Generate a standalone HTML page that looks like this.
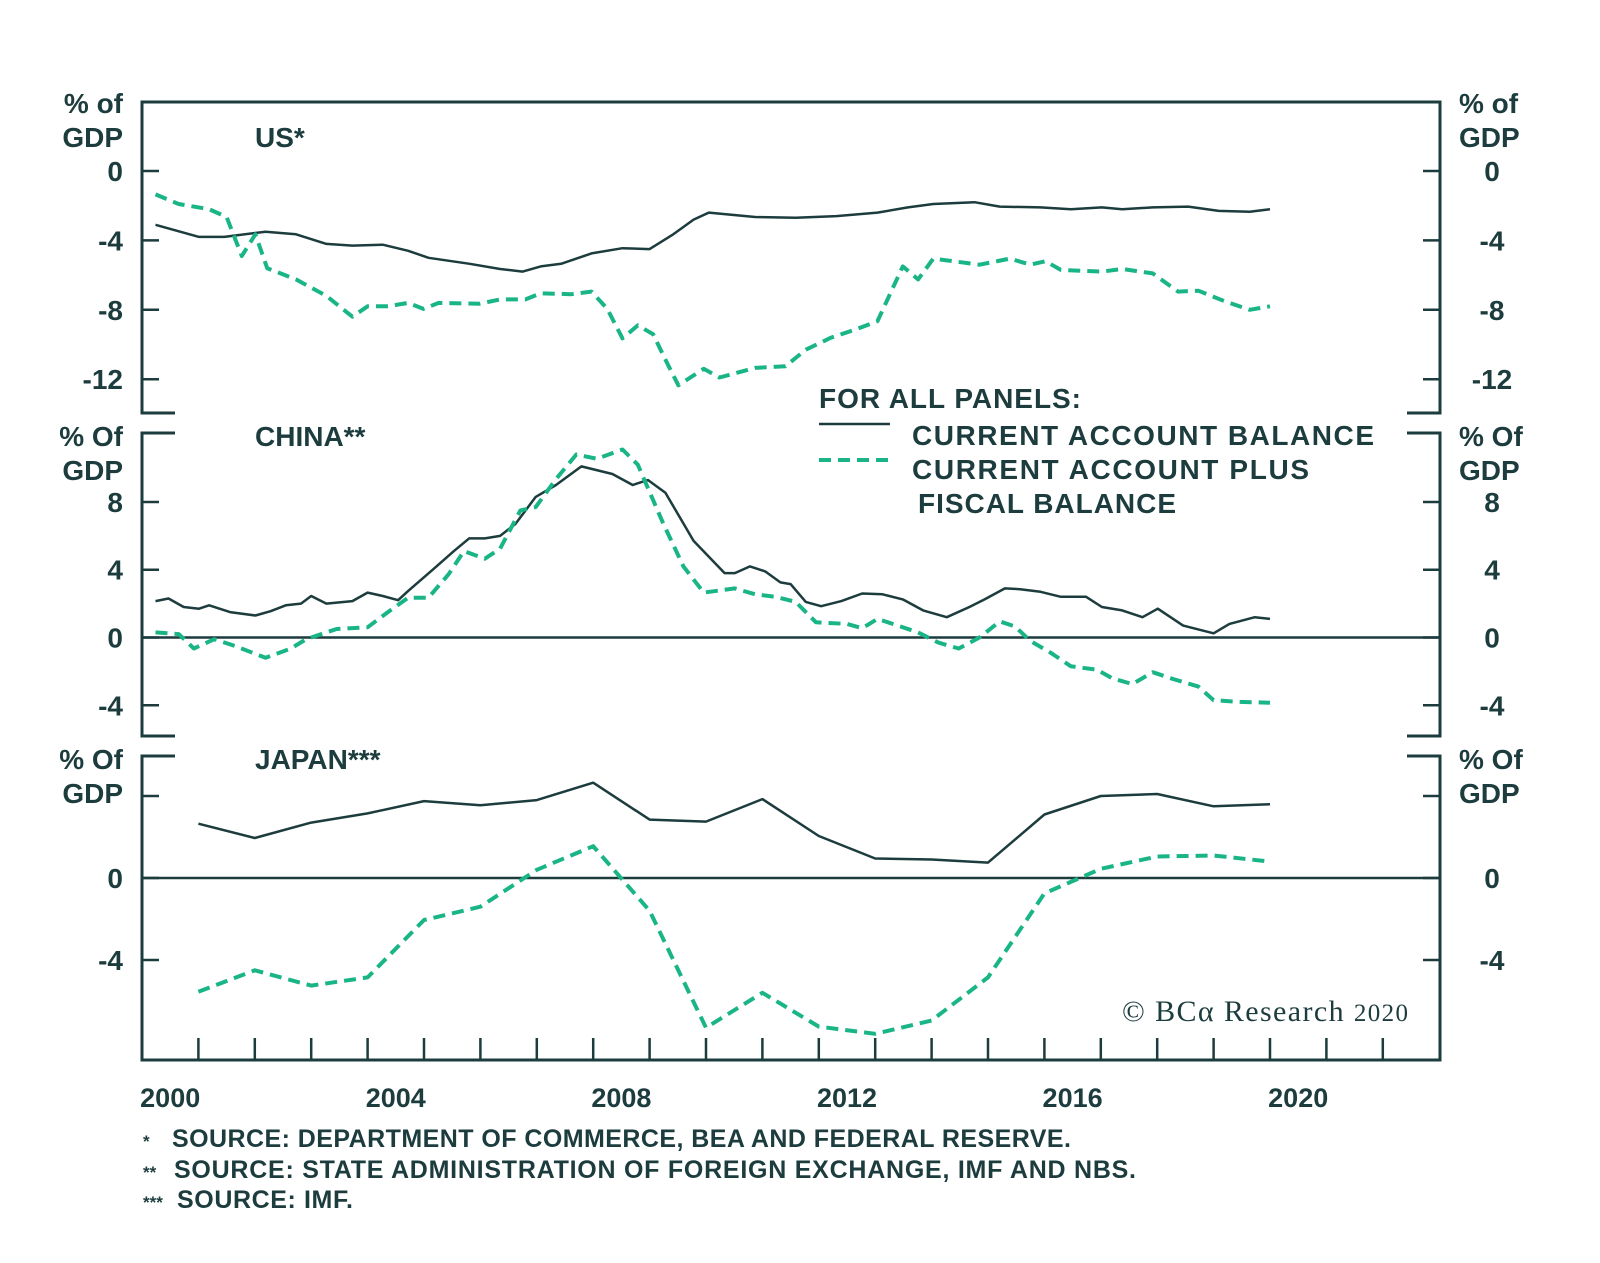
<!DOCTYPE html>
<html><head><meta charset="utf-8"><style>
html,body{margin:0;padding:0;background:#fff}
svg{display:block}
text{font-family:"Liberation Sans",sans-serif;font-weight:bold;fill:#1d3c3e}
</style></head><body>
<svg id="chart" width="1600" height="1263" viewBox="0 0 1600 1263" xmlns="http://www.w3.org/2000/svg">
<g id="frame"></g>
<g id="labels"></g>
<g id="series"></g>
<g>
<text x="819" y="408" font-size="28" textLength="262">FOR ALL PANELS:</text>
<line x1="819" y1="424" x2="890" y2="424" stroke="#1d3c3e" stroke-width="2.5"/>
<text x="912" y="445" font-size="28" textLength="462">CURRENT ACCOUNT BALANCE</text>
<line x1="819" y1="460" x2="890" y2="460" stroke="#1ab586" stroke-width="4" stroke-dasharray="12 7"/>
<text x="912" y="479" font-size="28" textLength="397">CURRENT ACCOUNT PLUS</text>
<text x="918" y="513" font-size="28" textLength="258">FISCAL BALANCE</text>
</g>
<text x="1122" y="1021" font-size="30" textLength="286" style="font-family:'Liberation Serif',serif;font-weight:normal">© BCα Research <tspan font-size="25">2020</tspan></text>
<g>
<text x="143" y="1147" font-size="17">*</text>
<text x="172" y="1147" font-size="25" textLength="899">SOURCE: DEPARTMENT OF COMMERCE, BEA AND FEDERAL RESERVE.</text>
<text x="143" y="1178" font-size="17">**</text>
<text x="174" y="1178" font-size="25" textLength="962">SOURCE: STATE ADMINISTRATION OF FOREIGN EXCHANGE, IMF AND NBS.</text>
<text x="143" y="1208" font-size="17">***</text>
<text x="177" y="1208" font-size="25" textLength="176">SOURCE: IMF.</text>
</g>
</svg>
<script>
// ---- data ----
const usCaYears=[2000.24,2001.01,2001.46,2002.19,2002.73,2003.27,2003.73,2004.27,2004.72,2005.08,2005.81,2006.35,2006.75,2007.07,2007.43,2007.97,2008.52,2009.0,2009.42,2009.78,2010.05,2010.87,2011.59,2012.31,2013.04,2013.58,2014.03,2014.76,2015.21,2015.93,2016.47,2017.02,2017.38,2017.92,2018.55,2019.09,2019.64,2020.0];
const usCa=[-3.1,-3.8,-3.8,-3.5,-3.65,-4.2,-4.3,-4.25,-4.6,-5.0,-5.35,-5.65,-5.8,-5.5,-5.35,-4.75,-4.45,-4.5,-3.65,-2.8,-2.4,-2.65,-2.7,-2.6,-2.4,-2.1,-1.9,-1.8,-2.05,-2.1,-2.2,-2.1,-2.2,-2.1,-2.05,-2.3,-2.35,-2.2];
const usFiscYears=[2000.24,2000.65,2001.19,2001.5,2001.77,2002.01,2002.22,2002.73,2003.27,2003.73,2004.0,2004.36,2004.72,2004.99,2005.26,2005.99,2006.35,2006.8,2007.07,2007.61,2007.97,2008.25,2008.52,2008.79,2009.06,2009.33,2009.51,2009.96,2010.24,2010.87,2011.41,2011.77,2012.22,2012.68,2013.04,2013.49,2013.76,2014.03,2014.85,2015.39,2015.75,2016.02,2016.29,2017.02,2017.38,2017.92,2018.37,2018.73,2019.19,2019.64,2020.0];
const usFisc=[-1.35,-1.9,-2.2,-2.65,-4.9,-3.65,-5.6,-6.25,-7.2,-8.4,-7.8,-7.8,-7.6,-7.95,-7.6,-7.65,-7.4,-7.4,-7.05,-7.1,-6.95,-7.95,-9.65,-8.9,-9.4,-11.2,-12.35,-11.4,-11.9,-11.35,-11.25,-10.3,-9.6,-9.1,-8.65,-5.5,-6.25,-5.05,-5.4,-5.05,-5.4,-5.2,-5.7,-5.8,-5.65,-5.9,-6.95,-6.9,-7.5,-8.0,-7.8];
const cnCaYears=[2000.24,2000.47,2000.74,2001.01,2001.19,2001.56,2002.01,2002.28,2002.55,2002.82,2003.0,2003.27,2003.73,2004.0,2004.27,2004.54,2004.72,2005.17,2005.53,2005.8,2006.08,2006.35,2006.62,2006.98,2007.34,2007.79,2008.34,2008.7,2008.97,2009.28,2009.78,2010.33,2010.51,2010.78,2011.05,2011.32,2011.5,2011.77,2012.04,2012.4,2012.77,2013.13,2013.49,2013.85,2014.27,2014.67,2014.94,2015.3,2015.57,2015.93,2016.29,2016.74,2017.02,2017.38,2017.74,2018.01,2018.46,2019.0,2019.28,2019.73,2020.0];
const cnCa=[2.15,2.3,1.8,1.7,1.9,1.5,1.3,1.55,1.9,2.0,2.45,2.0,2.15,2.65,2.45,2.2,2.75,4.05,5.1,5.85,5.85,6.0,6.7,8.3,9.0,10.1,9.65,9.0,9.3,8.55,5.7,3.8,3.8,4.2,3.9,3.25,3.15,2.1,1.85,2.15,2.6,2.55,2.25,1.6,1.2,1.8,2.25,2.9,2.85,2.7,2.4,2.4,1.8,1.6,1.2,1.7,0.7,0.25,0.8,1.2,1.1];
const cnFiscYears=[2000.24,2000.65,2000.92,2001.28,2001.65,2002.19,2002.64,2002.91,2003.45,2004.0,2004.36,2004.72,2005.08,2005.44,2005.71,2006.08,2006.35,2006.71,2006.98,2007.34,2007.7,2008.07,2008.52,2008.79,2009.24,2009.6,2009.96,2010.51,2010.87,2011.23,2011.59,2011.95,2012.5,2012.77,2013.04,2013.4,2013.76,2014.12,2014.48,2014.85,2015.21,2015.48,2015.75,2016.11,2016.47,2016.93,2017.2,2017.56,2017.92,2018.28,2018.73,2019.0,2019.46,2020.0];
const cnFisc=[0.3,0.2,-0.65,-0.1,-0.5,-1.2,-0.65,-0.1,0.5,0.6,1.5,2.35,2.35,3.75,5.1,4.65,5.25,7.5,7.7,9.35,10.8,10.55,11.1,10.2,6.75,4.2,2.65,2.9,2.55,2.4,2.1,0.9,0.8,0.55,1.1,0.7,0.3,-0.3,-0.65,0,0.95,0.65,-0.2,-0.9,-1.7,-1.9,-2.4,-2.75,-2.05,-2.45,-2.9,-3.7,-3.8,-3.85];
const jpYears=[2001,2002,2003,2004,2005,2006,2007,2008,2009,2010,2011,2012,2013,2014,2015,2016,2017,2018,2019,2020];
const jpCa=[2.65,1.95,2.7,3.15,3.75,3.55,3.8,4.65,2.85,2.75,3.85,2.05,0.95,0.9,0.75,3.1,4.0,4.1,3.5,3.6];
const jpFisc=[-5.55,-4.5,-5.25,-4.85,-2.05,-1.4,0.4,1.55,-1.6,-7.3,-5.6,-7.25,-7.6,-6.95,-4.85,-0.75,0.45,1.05,1.1,0.8];
const yearLabels=["2000","2004","2008","2012","2016","2020"];
const usTicks=[0,-4,-8,-12];
const cnTicks=[8,4,0,-4];
const jpTicks=[4,0,-4];
const jpTickLabels=[null,"0","-4"];

// ---- scales ----
const X0=142,X1=1440,PX=56.4;
const x=t=>X0+(t-2000)*PX;
const yUS=v=>171-v*17.35;
const yCN=v=>637.5-v*16.94;
const yJP=v=>878-v*20.5;
const NS="http://www.w3.org/2000/svg";
const DARK="#1d3c3e",GREEN="#1ab586";
function mk(parent,tag,attrs){const e=document.createElementNS(NS,tag);for(const k in attrs)e.setAttribute(k,attrs[k]);parent.appendChild(e);return e;}
const frame=document.getElementById('frame'),labels=document.getElementById('labels'),series=document.getElementById('series');

function ln(x1,y1,x2,y2,name,w){const l=mk(frame,'line',{x1,y1,x2,y2,stroke:DARK,'stroke-width':w||3});

return l;}
function tx(xx,yy,s,anchor,name,size){const t=mk(labels,'text',{x:xx,y:yy,'font-size':size||28,'text-anchor':anchor||'start'});t.textContent=s;

return t;}

// frame
ln(X0,102,X1,102,'top-border');
ln(X0,1060,X1,1060,'x-axis');
const panels=[[102,413],[433,736],[756,1060]];
panels.forEach((p,i)=>{
  ln(X0,p[0]-1.5,X0,p[1]+1.5,'left-axis-panel-'+i);
  ln(X1,p[0]-1.5,X1,p[1]+1.5,'right-axis-panel-'+i);
  if(i>0){ln(X0,p[0],X0+33,p[0],'bracket-left-top-'+i);ln(X1-33,p[0],X1,p[0],'bracket-right-top-'+i);}
  if(i<2){ln(X0,p[1],X0+33,p[1],'bracket-left-bottom-'+i);ln(X1-33,p[1],X1,p[1],'bracket-right-bottom-'+i);}
});
ln(X0,yCN(0),X1,yCN(0),'china-zero-line',2.5);
ln(X0,yJP(0),X1,yJP(0),'japan-zero-line',2.5);
for(let yr=2001;yr<=2022;yr++){ln(x(yr),1060,x(yr),1038,'x-tick-'+yr,2.5);}
yearLabels.forEach(s=>tx(x(+s+0.5),1107,s,'middle','x-label-'+s,27));

function yTicks(ticks,ys,pname,lbls){
  ticks.forEach((v,i)=>{const yy=ys(v);
    ln(X0,yy,X0+17,yy,pname+'-left-tick',2.5);ln(X1-17,yy,X1,yy,pname+'-right-tick',2.5);
    const s=lbls?lbls[i]:String(v);
    if(s===undefined||s===null)return;
    tx(123,yy+10,s,'end',pname+'-y-label-'+s);
    tx(1492,yy+10,s,'middle',pname+'-y2-label-'+s);
  });
}
yTicks(usTicks,yUS,'us');
yTicks(cnTicks,yCN,'china');
yTicks(jpTicks,yJP,'japan',jpTickLabels);

function unitLabels(y1,y2,top,pname){
  tx(123,y1,top,'end',pname+'-unit-top');tx(123,y2,'GDP','end',pname+'-unit-gdp');
  tx(1459,y1,top,'start',pname+'-unit-top-right');tx(1459,y2,'GDP','start',pname+'-unit-gdp-right');
}
unitLabels(113,147,'% of','us');
unitLabels(446,480,'% Of','china');
unitLabels(769,803,'% Of','japan');
tx(255,147,'US*','start','us-panel-title');
tx(255,446,'CHINA**','start','china-panel-title');
tx(255,769,'JAPAN***','start','japan-panel-title');

function line(xs,vs,ys,dashed,name){
  const d=xs.map((t,i)=>(i?'L':'M')+x(t).toFixed(1)+','+ys(vs[i]).toFixed(1)).join(' ');
  const p=mk(series,'path',{d,fill:'none',stroke:dashed?GREEN:DARK,'stroke-width':dashed?4:2.5,'stroke-linejoin':'round','stroke-dasharray':dashed?'12 7':'none'});
  
  
}
line(usCaYears,usCa,yUS,false,'us-current-account-line');
line(usFiscYears,usFisc,yUS,true,'us-ca-plus-fiscal-line');
line(cnCaYears,cnCa,yCN,false,'china-current-account-line');
line(cnFiscYears,cnFisc,yCN,true,'china-ca-plus-fiscal-line');
line(jpYears,jpCa,yJP,false,'japan-current-account-line');
line(jpYears,jpFisc,yJP,true,'japan-ca-plus-fiscal-line');
</script>
</body></html>
